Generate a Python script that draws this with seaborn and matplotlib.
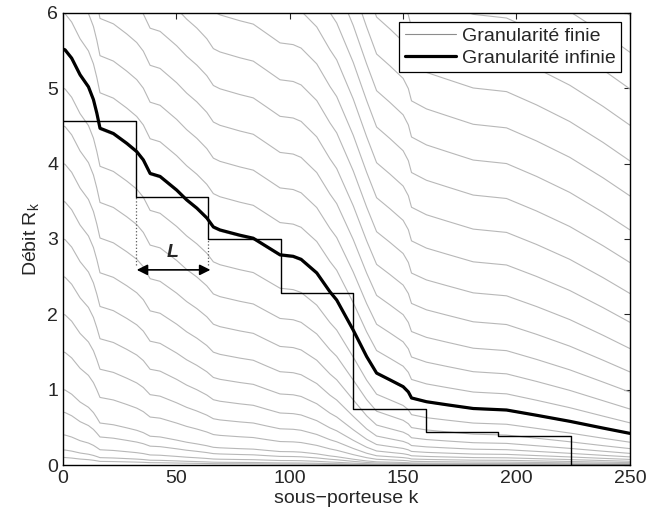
import numpy as np
import pandas as pd
import seaborn as sns
import matplotlib
matplotlib.use("Agg")
import matplotlib.pyplot as plt

# thick curve (granularite infinie)
k_inf = [0, 0.9, 3.8, 7.5, 11.2, 13.4, 14.9, 16.3, 22.2, 28.1, 32.5, 35.4, 38.4, 42.8,
         50.1, 54.5, 59, 63.4, 66.3, 69.2, 78, 83.9, 89.8, 95.7, 101.5, 105, 111.9,
         117.7, 120.7, 128, 133.9, 138.3, 144.2, 150, 152.3, 153.7, 160.3, 169.2,
         180.9, 195.6, 208.9, 223.5, 238.2, 250]
r_inf = [5.52, 5.51, 5.40, 5.18, 5.02, 4.85, 4.67, 4.47, 4.40, 4.27, 4.16, 4.05, 3.87, 3.83,
         3.65, 3.52, 3.41, 3.28, 3.16, 3.12, 3.05, 3.01, 2.90, 2.79, 2.77, 2.73, 2.55,
         2.30, 2.19, 1.79, 1.44, 1.22, 1.13, 1.04, 0.97, 0.89, 0.84, 0.80,
         0.75, 0.73, 0.66, 0.58, 0.49, 0.42]

# gray family: value of each curve at k = 0
start_levels = [0.1, 0.2, 0.4, 0.7, 1.0, 1.5, 2.0, 2.5, 3.0, 3.5, 4.0, 4.5, 5.0, 5.5,
                6.0, 6.5, 7.0, 7.5, 8.0, 8.5, 9.0, 9.5, 10.0, 10.5, 11.0, 11.5, 12.0,
                12.5, 13.0, 13.5]

# stepped allocation (blocks of L = 32 subcarriers)
k_step = [0, 32, 64, 96, 128, 160, 192, 224, 250]
r_step = [4.56, 3.56, 3.00, 2.28, 0.75, 0.44, 0.38, 0.0, 0.0]

sns.set_style("white")
plt.rcParams["font.family"] = ["Liberation Sans", "DejaVu Sans"]
plt.rcParams.update({"xtick.direction": "in", "ytick.direction": "in",
                     "xtick.top": True, "ytick.right": True,
                     "xtick.major.size": 4, "ytick.major.size": 4,
                     "font.size": 14})

k_arr = np.array(k_inf)
snr = 2.0 ** np.array(r_inf) - 1.0
rows = []
for i, s in enumerate(start_levels):
    c = (2.0 ** s - 1.0) / snr[0]
    for kk, v in zip(k_arr, np.log2(1.0 + c * snr)):
        rows.append((i, kk, v))
gray = pd.DataFrame(rows, columns=["curve", "k", "R"])
thick = pd.DataFrame({"k": k_inf, "R": r_inf})
steps = pd.DataFrame({"k": k_step, "R": r_step})

fig = plt.figure(figsize=(6.5, 5.18), dpi=100)
ax = fig.add_axes([0.097, 0.1023, 0.872, 0.8727])

sns.lineplot(data=gray, x="k", y="R", units="curve", estimator=None, color="0.72",
             lw=0.8, ax=ax, legend=False)
sns.lineplot(data=steps, x="k", y="R", drawstyle="steps-post", color="k", lw=1.0,
             ax=ax, legend=False)
sns.lineplot(data=thick, x="k", y="R", color="k", lw=2.3, ax=ax, legend=False)

ax.plot([32, 32], [2.65, 3.56], ls=":", color="0.35", lw=0.9)
ax.plot([64, 64], [2.65, 3.0], ls=":", color="0.35", lw=0.9)
ax.annotate("", xy=(65, 2.59), xytext=(32.5, 2.59),
            arrowprops=dict(arrowstyle="<|-|>", color="k", lw=1.2, mutation_scale=16,
                            shrinkA=0, shrinkB=0))
ax.text(48.5, 2.82, "L", fontweight="bold", fontstyle="italic", ha="center",
        va="center", fontsize=14)

ax.set_xlim(0, 250)
ax.set_ylim(0, 6)
ax.set_xticks([0, 50, 100, 150, 200, 250])
ax.set_yticks([0, 1, 2, 3, 4, 5, 6])
ax.set_xlabel("sous\u2212porteuse k", labelpad=2)
ax.set_ylabel("Débit R$_\\mathregular{k}$", labelpad=4)
for sp in ax.spines.values():
    sp.set_color("k")
    sp.set_linewidth(1.0)

h1, = ax.plot([], [], color="0.55", lw=0.8)
h2, = ax.plot([], [], color="k", lw=2.3)
leg = ax.legend([h1, h2], ["Granularité finie", "Granularité infinie"],
                loc="upper right", fancybox=False, framealpha=1, edgecolor="k",
                handlelength=2.6, handletextpad=0.3, labelspacing=0.2,
                borderpad=0.3, borderaxespad=0.45)
leg.get_frame().set_linewidth(0.9)

fig.savefig("out.png", dpi=100)
